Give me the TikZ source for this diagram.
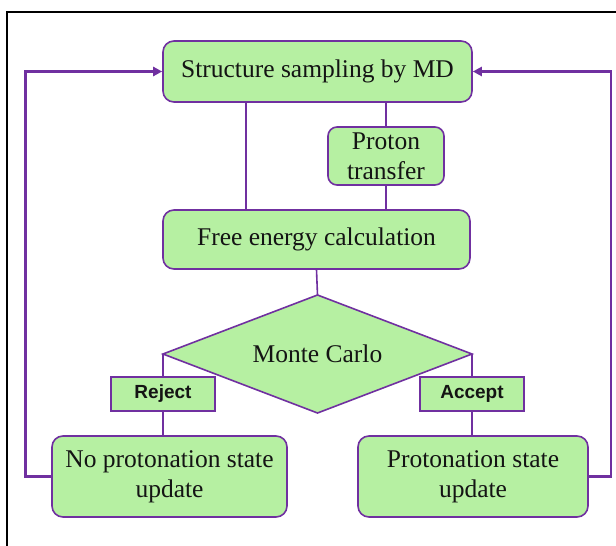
\documentclass[tikz,border=0pt]{standalone}
\usepackage{fontspec}
\setmainfont{Liberation Serif}
\newfontfamily\labelfont{Liberation Sans}
\usetikzlibrary{shapes.geometric,arrows.meta}
\definecolor{boxgreen}{RGB}{182,240,162}
\definecolor{linepurple}{RGB}{112,48,160}
\definecolor{txt}{RGB}{20,20,20}
\tikzset{
  procbox/.style={draw=linepurple, line width=1.6pt, fill=boxgreen, rounded corners=11pt,
    inner sep=0pt, align=center, text=txt, font=\fontsize{25.5}{30}\selectfont},
  tagbox/.style={draw=linepurple, line width=1.6pt, fill=boxgreen, inner sep=0pt,
    text=txt, font=\labelfont\bfseries\fontsize{19}{22}\selectfont},
  decbox/.style={draw=linepurple, line width=1.6pt, fill=boxgreen, diamond, inner sep=0pt,
    text=txt, font=\fontsize{25.5}{30}\selectfont},
  conn/.style={draw=linepurple, line width=1.6pt},
  loopline/.style={draw=linepurple, line width=2.6pt, -{Triangle[length=9pt,width=9pt]}},
}
\begin{document}
\begin{tikzpicture}[x=1pt,y=-1pt]
\useasboundingbox (0,0) rectangle (616,546);
\fill[white] (0,0) rectangle (616,546);
\begin{scope}
\clip (0,0) rectangle (616,546);
\draw[black, line width=2.4pt] (7,560) -- (7,12) -- (630,12);
\end{scope}

\node[procbox, minimum width=309pt, minimum height=61pt] (top) at (317.5,71.5) {Structure sampling by MD};
\node[procbox, rounded corners=9pt, minimum width=116pt, minimum height=58pt] (pt) at (386,156) {Proton\\transfer};
\node[procbox, minimum width=307pt, minimum height=59pt] (free) at (316.5,239.5) {Free energy calculation};
\node[decbox, minimum width=309pt, minimum height=118pt, aspect=2.62, outer sep=0pt] (mc) at (317.5,354) {Monte Carlo};
\node[tagbox, minimum width=104pt, minimum height=34pt] (rej) at (163,394) {Reject};
\node[tagbox, minimum width=104pt, minimum height=34pt] (acc) at (472,394) {Accept};
\node[procbox, minimum width=235pt, minimum height=81pt] (nop) at (169.5,476.5) {No protonation state\\update};
\node[procbox, minimum width=230pt, minimum height=81pt] (pro) at (473,476.5) {Protonation state\\update};

% connectors
\draw[conn] ([xshift=84pt]top.south west) -- ([xshift=84pt]free.north west);
\draw[conn] (pt.north) -- (pt.north |- top.south);
\draw[conn] (pt.south) -- (pt.south |- free.north);
\draw[conn] (free.south) -- (mc.north);
\draw[conn] (mc.west) -- (mc.west |- rej.north);
\draw[conn] (rej.south) -- (rej.south |- nop.north);
\draw[conn] (mc.east) -- (mc.east |- acc.north);
\draw[conn] (acc.south) -- (acc.south |- pro.north);

% feedback loops
\draw[loopline] (nop.west) -- ++(-26,0) |- (top.west);
\draw[loopline] (pro.east) -- ++(22,0) |- (top.east);
\end{tikzpicture}
\end{document}
